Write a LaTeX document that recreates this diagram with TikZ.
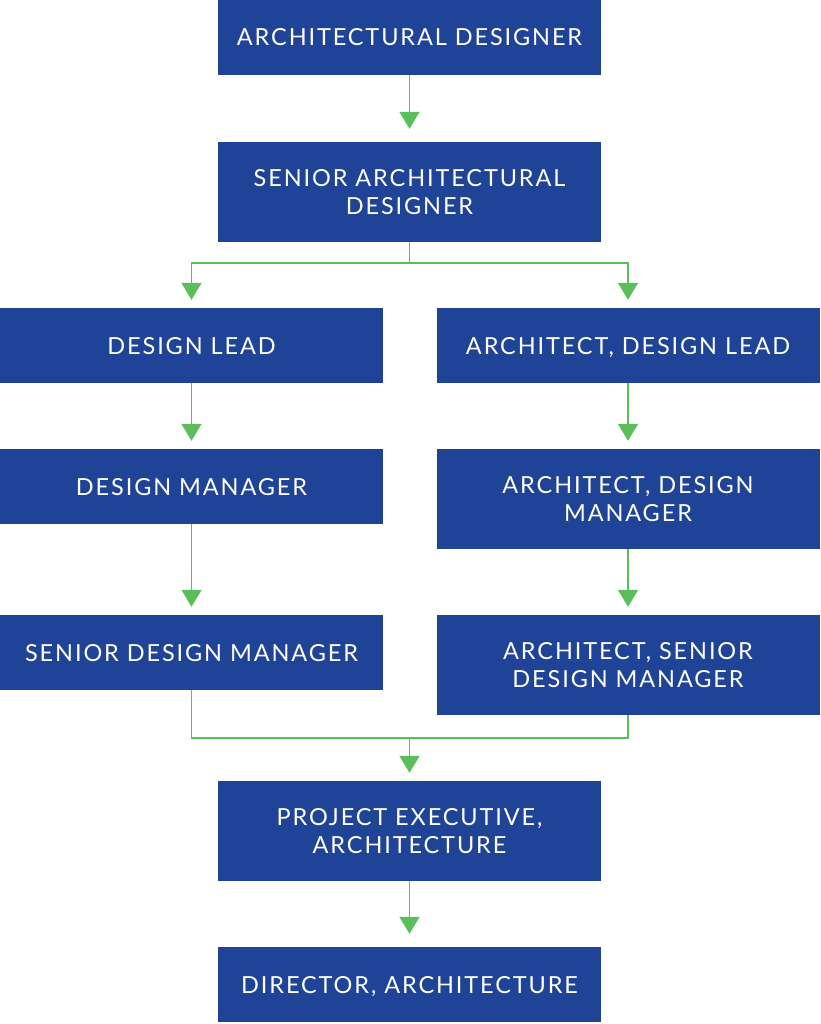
\documentclass[tikz,border=0pt]{standalone}
\usepackage{fontspec}
\usepackage{xcolor}
\usetikzlibrary{arrows.meta}
\setmainfont{Lato}[LetterSpace=8]

\definecolor{boxblue}{RGB}{31,67,150}
\definecolor{flowgreen}{RGB}{90,190,90}

\begin{document}
\begin{tikzpicture}[x=1pt,y=1pt]
  %% styles
  \tikzset{
    box/.style={fill=boxblue, text=white, minimum width=383, minimum height=75,
      inner sep=0, align=center, text depth=-2, font=\fontsize{23.5}{28}\selectfont},
    tallbox/.style={box, minimum height=100},
    line/.style={draw=flowgreen, line width=1.8},
    flow/.style={line, -{Triangle[width=20,length=17]}, shorten >=8}
  }
\useasboundingbox (0,0) rectangle (820,1024);

%% colonne du milieu (haut)
\node[box] (ad) at (409.5,986.5) {ARCHITECTURAL DESIGNER};
\node[tallbox] (sad) at (409.5,832) {SENIOR ARCHITECTURAL\\DESIGNER};

%% colonne de gauche
\node[box] (dl) at (191.5,678.5) {DESIGN LEAD};
\node[box] (dm) at (191.5,537.5) {DESIGN MANAGER};
\node[box] (sdm) at (191.5,371.5) {SENIOR DESIGN MANAGER};

%% colonne de droite
\node[box] (adl) at (628,678.5) {ARCHITECT, DESIGN LEAD};
\node[tallbox] (adm) at (628,525) {ARCHITECT, DESIGN\\MANAGER};
\node[tallbox] (asdm) at (628,359) {ARCHITECT, SENIOR\\DESIGN MANAGER};

%% colonne du milieu (bas)
\node[tallbox] (pe) at (409.5,193) {PROJECT EXECUTIVE,\\ARCHITECTURE};
\node[box] (dir) at (409.5,39.5) {DIRECTOR, ARCHITECTURE};

%% fleches
\draw[flow, shorten >=13] (ad) -- (sad);
\draw[flow] (sad.south) -- ++(0,-21) -| (dl.north);
\draw[flow] (sad.south) -- ++(0,-21) -| (adl.north);
\draw[flow] (dl) -- (dm);
\draw[flow] (dm) -- (sdm);
\draw[flow] (adl) -- (adm);
\draw[flow] (adm) -- (asdm);

%% jonction
\coordinate (join) at (409.5,286);
\draw[line] (sdm.south) |- (join) -| (asdm.south);
\draw[flow] (join) -- (pe);
\draw[flow, shorten >=13] (pe) -- (dir);

\end{tikzpicture}
\end{document}
